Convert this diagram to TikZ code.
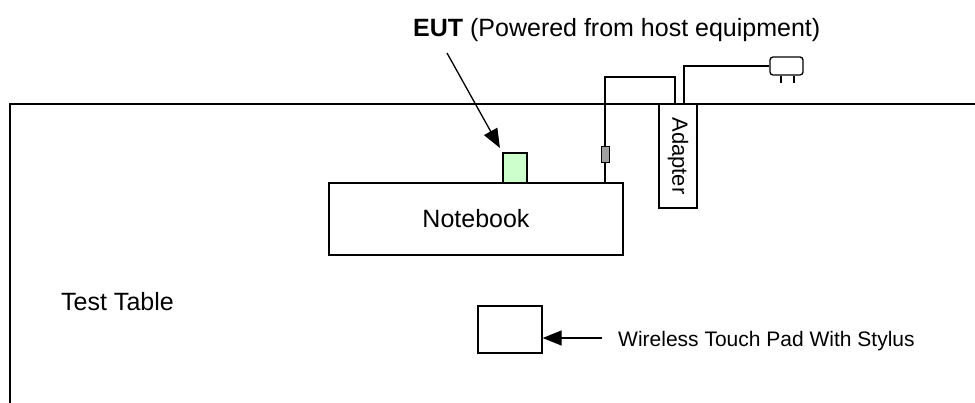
\documentclass[tikz,border=0pt]{standalone}
\usepackage{fontspec}
\setmainfont{Liberation Sans}
\usetikzlibrary{arrows.meta}
\tikzset{
  box/.style={draw, line width=1.3pt, inner sep=0pt, fill=white},
  wire/.style={line width=1.3pt},
  arr/.style={line width=1.3pt, -{Triangle[length=19pt,width=15pt]}},
  lbl/.style={inner sep=0pt, anchor=base west, font=\fontsize{25}{30}\selectfont},
  smalllbl/.style={inner sep=0pt, anchor=base west, font=\fontsize{21}{24}\selectfont}
}
\begin{document}
\begin{tikzpicture}[x=1pt,y=-1pt]
\useasboundingbox (0,0) rectangle (975,403);
% test table outline
\coordinate (tr) at (975,104);
\coordinate (tl) at (10,104);
\coordinate (bl) at (10,403);
\draw[line width=1.6pt] (tr) -- (tl) -- (bl);
% nodes
\node[box, minimum width=294pt, minimum height=72pt, font=\fontsize{25}{30}\selectfont] (notebook) at (476,219) {Notebook};
\node[box, fill={rgb,255:red,204;green,255;blue,204}, minimum width=24pt, minimum height=30pt] (eut) at (515,168) {};
\node[box, minimum width=38pt, minimum height=104pt] (adapter) at (678,156) {};
\node[inner sep=0pt, rotate=-90, font=\fontsize{22}{24}\selectfont] (adaptertext) at (adapter.center) {Adapter};
\node[box, fill={rgb,255:red,160;green,160;blue,160}, minimum width=8pt, minimum height=16pt, line width=1pt] (ferrite) at (605,155) {};
\node[box, rounded corners=3pt, minimum width=33pt, minimum height=18pt] (plug) at (786.5,66) {};
\node[box, minimum width=64pt, minimum height=47pt] (pad) at (510,329.5) {};
% plug prongs
\draw[wire] ([xshift=-5.5pt]plug.south) -- ++(0,7);
\draw[wire] ([xshift=7.5pt]plug.south) -- ++(0,7);
% cables
\coordinate (w1) at (605,77);
\coordinate (w2) at (675,77);
\coordinate (w3) at (684,66);
\draw[wire] (notebook.north -| ferrite.south) -- (ferrite.south);
\draw[wire] (ferrite.north) -- (w1) -- (w2) -- (w2 |- adapter.north);
\draw[wire] (w3 |- adapter.north) -- (w3) -- (plug.west);
% labels
\node[lbl] (eutlabel) at (413,37) {\bfseries EUT\mdseries\ (Powered from host equipment)};
\coordinate (eutarrow) at (447,53);
\draw[arr, shorten >=5pt] (eutarrow) -- (eut.north west);
\node[lbl] (table) at (61,311) {Test Table};
\node[smalllbl] (padlabel) at (618,347) {Wireless Touch Pad With Stylus};
\coordinate (padarrow) at (602,338);
\draw[arr] (padarrow) -- (pad.east |- padarrow);
\end{tikzpicture}
\end{document}
